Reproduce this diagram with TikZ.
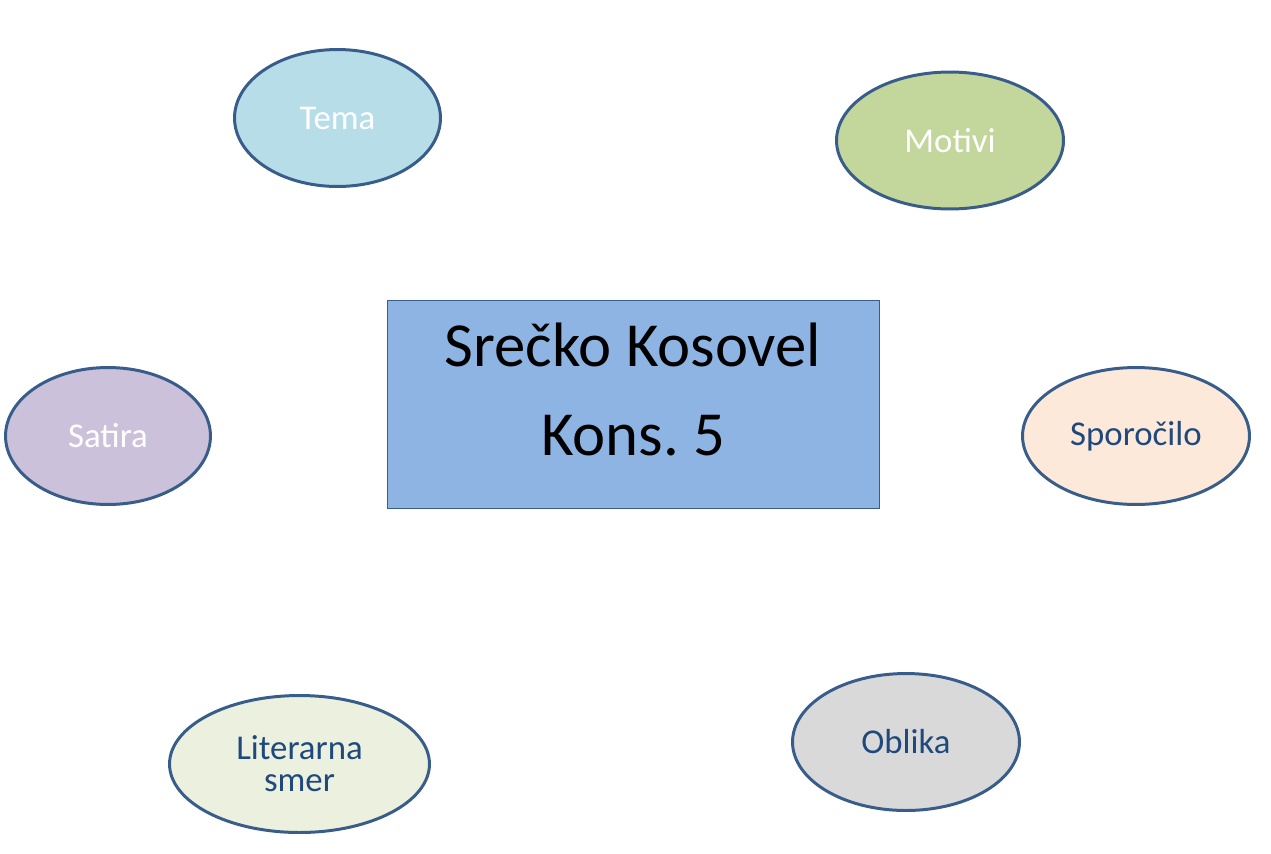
\documentclass[tikz,border=0pt]{standalone}
\usepackage{fontspec}
\setmainfont{Carlito}
\frenchspacing
\usetikzlibrary{shapes.geometric}
\definecolor{rim}{HTML}{385D8A}
\definecolor{ink}{HTML}{1F497D}
\definecolor{temafill}{HTML}{B7DDE8}
\definecolor{motivifill}{HTML}{C3D69B}
\definecolor{satirafill}{HTML}{CCC1DA}
\definecolor{sporfill}{HTML}{FDE9D9}
\definecolor{litfill}{HTML}{EBF1DE}
\definecolor{oblikafill}{HTML}{D9D9D9}
\definecolor{boxfill}{HTML}{8EB4E3}
\begin{document}
\begin{tikzpicture}[x=0.02cm,y=-0.02cm,
  bubble/.style={ellipse,draw=rim,line width=1.7pt,inner sep=0pt,
    minimum height=2.74cm,font=\fontsize{19.8}{18.2}\selectfont,align=center},
  centerbox/.style={rectangle,draw=rim,line width=0.5pt,fill=boxfill,
    minimum width=9.84cm,minimum height=4.16cm,align=center,text depth=17pt,
    font=\fontsize{35.7}{51}\selectfont}]
\useasboundingbox (0,0) rectangle (1271,853);
\node[centerbox] (kosovel) at (633,404) {Srečko Kosovel\\Kons. 5};
\node[bubble,fill=temafill,text=white,minimum width=4.12cm] (tema) at (337.5,118) {Tema};
\node[bubble,fill=motivifill,text=white,minimum width=4.54cm] (motivi) at (950,140.5) {Motivi};
\node[bubble,fill=satirafill,text=white,minimum width=4.10cm] (satira) at (108,436) {Satira};
\node[bubble,fill=sporfill,text=ink,minimum width=4.54cm] (sporocilo) at (1136,436) {Sporočilo};
\node[bubble,fill=litfill,text=ink,minimum width=5.20cm] (literarna) at (299.5,764) {Literarna\\smer};
\node[bubble,fill=oblikafill,text=ink,minimum width=4.54cm] (oblika) at (906,742) {Oblika};
\end{tikzpicture}
\end{document}
